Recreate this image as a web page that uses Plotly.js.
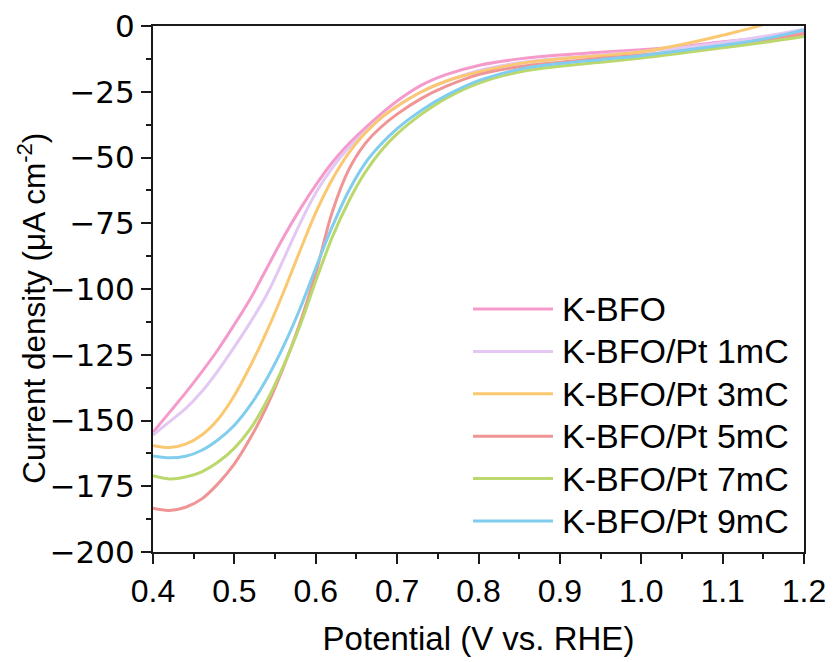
<!DOCTYPE html>
<html>
<head>
<meta charset="utf-8">
<script src="https://cdn.plot.ly/plotly-3.0.1.min.js"></script>
<style>html,body{margin:0;padding:0;background:#fff;}#chart{width:834px;height:662px;}</style>
</head>
<body>
<div id="chart"></div>
<script>
// Potential (V vs. RHE)
const potential = [0.40,0.42,0.44,0.46,0.48,0.50,0.52,0.54,0.56,0.58,0.60,0.62,0.64,0.66,0.68,0.70,0.73,0.76,0.80,0.85,0.90,0.95,1.00,1.05,1.10,1.15,1.20];

// Current density (uA cm-2) for each sample
const kbfo    = [-154.5,-147,-139.5,-131.5,-123,-113.5,-103.5,-92,-80.5,-70,-60.5,-52,-45,-39,-33.5,-28.5,-22.5,-18.5,-15,-12.5,-11,-10,-9,-7.8,-6,-4.5,-2.5];
const pt1mC   = [-155.5,-150.5,-145.5,-139,-131,-122,-112.5,-102,-89,-75.5,-63.5,-54,-46.5,-40.5,-35,-30.5,-25,-21,-17,-14,-12.3,-11,-9.8,-8.3,-6.3,-4,-1.2];
const pt3mC   = [-159.5,-160.3,-159,-155.5,-149.5,-140.5,-129,-116,-101.5,-86,-71,-58.5,-48.5,-41,-35,-30.5,-25,-21,-17.5,-14.3,-12.5,-11.3,-9.8,-7,-3.5,0.5,6];
const pt5mC   = [-183.4,-184.2,-183,-179.8,-174,-166.5,-156.5,-144.5,-130,-113.5,-94,-71,-55,-45,-38.5,-33.5,-27.5,-23,-18.5,-15.5,-13.8,-12.3,-11,-9.5,-7.5,-5.5,-3];
const pt7mC   = [-171,-172.2,-171.5,-169.5,-165.8,-160.5,-153,-142.5,-129.5,-114.5,-97,-80.5,-67,-56,-47.5,-41,-33.5,-27.5,-21.8,-17.5,-15.3,-13.8,-12.2,-10.3,-8.3,-6.3,-4];
const pt9mC   = [-163.5,-164.2,-163.6,-161.3,-157.3,-151.8,-144,-134,-122,-108,-92,-76.5,-63,-52.5,-45,-39,-32,-26.5,-20.8,-16.5,-14.3,-12.8,-11.3,-9.3,-7.3,-5,-1.5];

const seriesNames  = ["K-BFO","K-BFO/Pt 1mC","K-BFO/Pt 3mC","K-BFO/Pt 5mC","K-BFO/Pt 7mC","K-BFO/Pt 9mC"];
const seriesValues = [kbfo, pt1mC, pt3mC, pt5mC, pt7mC, pt9mC];
const seriesColors = ["#F59BCB","#E2C8F3","#FBC872","#F09595","#BBD86C","#80CDEE"];
const yTitle = 'Current density (μA cm<sup>-2</sup>)';
const xTitle = 'Potential (V vs. RHE)';

const FONT = 'Arial, "Liberation Sans", sans-serif';
const WIDE = '"DejaVu Sans", Arial, sans-serif';

const traces = seriesNames.map((n,i)=>({
  type:'scatter', mode:'lines', name:n,
  x: potential, y: seriesValues[i],
  line:{color:seriesColors[i], width:3, shape:'spline', smoothing:1},
  showlegend:false, hoverinfo:'skip'
}));

// custom legend (long line samples as in the original)
const shapes = [], annotations = [];
const legTop = 0.462, legStep = 0.0806;
seriesNames.forEach((n,i)=>{
  const yy = legTop - i*legStep;
  shapes.push({type:'line', xref:'paper', yref:'paper', x0:0.4916, x1:0.6144, y0:yy, y1:yy,
    line:{color:seriesColors[i], width:3}});
  annotations.push({xref:'paper', yref:'paper', x:0.6252, y:yy, xanchor:'left', yanchor:'middle',
    text:n, showarrow:false, font:{family:FONT, size:34, color:'#000'}});
});
// y-axis title
annotations.push({xref:'paper', yref:'paper', x:-0.186, y:0.464, xanchor:'center', yanchor:'middle',
  textangle:-90, text:yTitle, showarrow:false, font:{family:FONT, size:31.5, color:'#000'}});

const axisCommon = {
  showgrid:false, zeroline:false, showline:true, mirror:true,
  linecolor:'#1a1a1a', linewidth:2, ticks:'outside', ticklen:10, tickwidth:2, tickcolor:'#1a1a1a'
};

const layout = {
  width:834, height:662,
  margin:{l:153, r:30, t:26, b:110},
  paper_bgcolor:'#fff', plot_bgcolor:'#fff',
  font:{family:FONT, color:'#000'},
  xaxis: Object.assign({}, axisCommon, {
    range:[0.4,1.2], tick0:0.4, dtick:0.1, tickformat:'.1f',
    tickfont:{family:FONT, size:32, color:'#000'},
    minor:{dtick:0.05, ticks:'outside', ticklen:5, tickwidth:2, tickcolor:'#1a1a1a', showgrid:false},
    title:{text:xTitle, font:{family:FONT, size:33, color:'#000'}, standoff:18}
  }),
  yaxis: Object.assign({}, axisCommon, {
    range:[-200,0], tick0:0, dtick:25,
    tickfont:{family:WIDE, size:31, color:'#000'},
    minor:{dtick:12.5, ticks:'outside', ticklen:5, tickwidth:2, tickcolor:'#1a1a1a', showgrid:false}
  }),
  shapes: shapes,
  annotations: annotations,
  showlegend:false
};

Plotly.newPlot('chart', traces, layout, {staticPlot:true, displayModeBar:false});
</script>
</body>
</html>
